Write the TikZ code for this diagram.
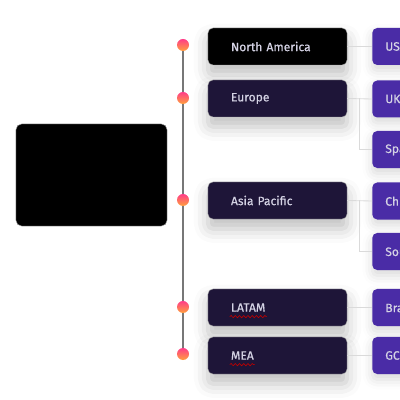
\documentclass[tikz,border=0pt]{standalone}
\usepackage{fontspec}
\setmainfont{Fira Sans}[BoldFont=Fira Sans,BoldFeatures={FakeBold=0.6}]
\usepackage{xcolor}
\usetikzlibrary{positioning,shadows.blur,backgrounds,decorations.pathmorphing}

\definecolor{regionfill}{HTML}{1E1538}
\definecolor{childfill}{HTML}{4A2CA6}
\definecolor{spine}{HTML}{777777}
\definecolor{linkgray}{HTML}{DADADA}
\definecolor{dottop}{HTML}{FF3D88}
\definecolor{dotbot}{HTML}{FFA03C}
\definecolor{labelgray}{HTML}{D4D2E4}

\begin{document}
\begin{tikzpicture}[x=0.025cm,y=0.025cm,font=\fontsize{8.6}{10}\selectfont\bfseries]
\tikzstyle{region}=[fill=regionfill,draw=black!35,line width=0.3pt,rounded corners=3.5pt,text=labelgray,align=left,text width=2.325cm,inner xsep=0.575cm,minimum height=0.925cm,blur shadow={shadow xshift=0pt,shadow yshift=-7pt,shadow blur radius=10pt,shadow opacity=25}]
\tikzstyle{child}=[fill=childfill,rounded corners=3.5pt,text=labelgray,align=left,text width=2.825cm,inner xsep=0.325cm,minimum height=0.925cm,anchor=west,blur shadow={shadow xshift=0pt,shadow yshift=-4pt,shadow blur radius=7pt,shadow opacity=15}]
\tikzstyle{dot}=[circle,inner sep=0pt,minimum size=0.3cm,top color=dottop,bottom color=dotbot]
\tikzstyle{link}=[draw=linkgray,line width=0.6pt]
\tikzstyle{squiggle}=[draw=red!75!black,line width=0.45pt,decorate,decoration={snake,amplitude=0.8pt,segment length=3pt}]
\useasboundingbox (0,0) rectangle (400,400);

% root box
\node[fill=black,draw=black!40,line width=0.3pt,rounded corners=4pt,minimum width=3.775cm,minimum height=2.55cm] (root) at (91.5,225) {};

% regions
\node[region,fill=black] (na) at (277.5,353.5) {North America};
\node[region] (eu) at (277.5,301.5) {Europe};
\node[region] (apac) at (277.5,199.5) {Asia Pacific};
\node[region] (latam) at (277.5,92.5) {LATAM};
\node[region] (mea) at (277.5,44.5) {MEA};

% countries
\node[child] (us) at (372,353.5) {USA};
\node[child] (uk) at (372,301) {UK};
\node[child] (es) at (372,250.5) {Spain};
\node[child] (cn) at (372,199) {China};
\node[child] (kr) at (372,148.5) {South Korea};
\node[child] (br) at (372,92.5) {Brazil};
\node[child] (gcc) at (372,44.5) {GCC};

% timeline dots
\node[dot] (d1) at (183,355) {};
\node[dot] (d2) at (183,302) {};
\node[dot] (d3) at (183,200) {};
\node[dot] (d4) at (183,93) {};
\node[dot] (d5) at (183,46) {};

\begin{scope}[on background layer]
\draw[spine,line width=1.1pt] (d1.center) -- (d5.center);
\end{scope}

\draw[link] (na) -- (us);
\draw[link] (eu.east) -- (uk.west);
\draw[link] ([xshift=0.3cm]eu.east) |- (es.west);
\draw[link] (apac.east) -- (cn.west);
\draw[link] ([xshift=0.3cm]apac.east) |- (kr.west);
\draw[link] (latam) -- (br);
\draw[link] (mea) -- (gcc);

% spell-check marks
\draw[squiggle] ([xshift=0.55cm,yshift=-6.5pt]latam.west) -- ++(37,0);
\draw[squiggle] ([xshift=0.55cm,yshift=-6.5pt]mea.west) -- ++(25,0);
\end{tikzpicture}
\end{document}
